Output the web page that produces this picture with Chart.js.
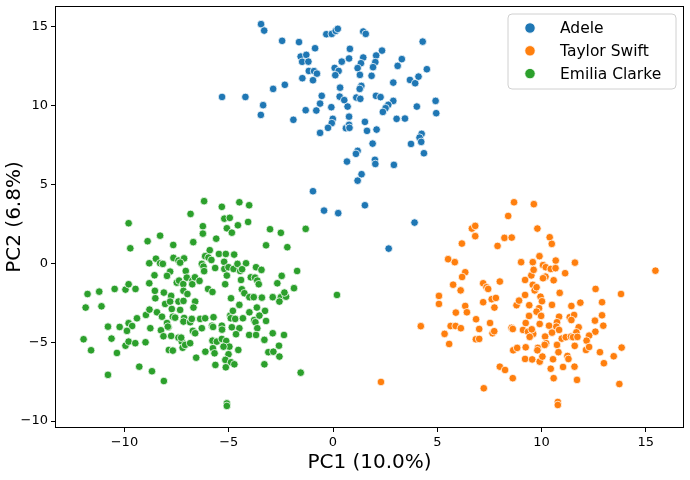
<!DOCTYPE html>
<html><head><meta charset="utf-8">
<script src="https://cdn.jsdelivr.net/npm/chart.js@4.4.1/dist/chart.umd.min.js"></script>
<style>html,body{margin:0;padding:0;background:#fff}#wrap{width:690px;height:480px}</style>
</head><body><div id="wrap"><canvas id="c" width="690" height="480"></canvas></div>
<script>
const seriesNames = ['Adele', 'Taylor Swift', 'Emilia Clarke'];
const seriesColors = ['#1f77b4', '#ff7f0e', '#2ca02c'];
const xTicks = [-10, -5, 0, 5, 10, 15];
const yTicks = [-10, -5, 0, 5, 10, 15];
const xLabel = 'PC1 (10.0%)';
const yLabel = 'PC2 (6.8%)';

const adele = [[-5.32,10.56],[-4.20,10.56],[-3.45,15.18],[-3.30,14.77],[-2.44,14.12],[-1.63,14.04],[-0.32,14.54],[-0.06,14.56],[0.13,14.75],[0.23,14.88],[-0.86,13.65],[0.81,13.61],[-1.55,13.12],[-1.28,13.23],[-1.48,12.79],[-1.18,12.80],[0.08,12.40],[0.27,12.21],[0.11,11.94],[-1.16,12.21],[-0.91,12.20],[-0.77,12.04],[0.42,12.80],[0.77,13.00],[-1.47,11.75],[-0.96,11.62],[-2.31,11.33],[-2.87,11.07],[-3.35,10.04],[-3.46,9.42],[-1.90,9.11],[-1.31,9.72],[-0.80,9.70],[-0.62,10.14],[-0.54,10.63],[-0.08,9.91],[0.34,11.15],[0.32,10.58],[0.54,10.36],[0.70,9.95],[-0.01,9.17],[-0.06,8.90],[-0.24,8.60],[-0.62,8.28],[0.62,8.58],[0.77,9.31],[1.45,14.71],[1.57,14.56],[1.45,13.06],[1.34,12.70],[1.18,12.39],[1.29,11.96],[2.35,13.50],[2.07,13.19],[2.03,12.77],[1.92,12.45],[1.85,11.90],[4.30,14.07],[3.30,12.96],[3.10,12.53],[4.50,12.32],[2.89,11.47],[3.69,11.64],[3.94,11.43],[4.10,11.85],[1.36,11.26],[1.28,11.07],[1.12,10.52],[1.31,10.44],[2.06,10.63],[2.28,10.55],[2.89,10.31],[2.65,10.06],[2.52,9.85],[2.39,9.61],[4.02,9.95],[4.92,10.31],[4.95,9.53],[0.77,8.79],[1.53,8.98],[1.63,8.41],[2.09,8.49],[3.05,9.17],[3.45,9.19],[4.25,8.22],[0.79,8.60],[0.67,6.46],[-0.96,4.58],[-0.43,3.35],[0.25,3.19],[1.90,7.60],[1.18,7.14],[1.10,6.95],[2.01,6.57],[2.03,6.31],[2.92,6.25],[3.74,7.58],[4.15,7.98],[4.23,7.71],[4.36,6.99],[1.37,5.66],[1.18,5.25],[1.53,3.69],[3.91,2.59],[2.67,0.94]];

const taylor = [[8.68,3.88],[9.63,3.76],[8.40,3.01],[6.66,2.21],[6.82,2.38],[6.82,1.73],[6.18,1.26],[7.89,1.11],[8.22,1.62],[8.57,1.64],[5.52,0.27],[5.84,0.08],[6.34,-0.56],[6.19,-0.86],[5.76,-1.35],[6.12,-1.71],[7.20,-1.26],[7.36,-1.51],[7.44,-1.62],[8.00,-1.15],[9.02,0.08],[9.58,0.08],[9.21,-1.05],[9.51,-0.76],[9.62,-0.41],[9.58,-1.36],[9.67,-1.71],[5.08,-2.06],[9.21,-2.00],[9.80,2.21],[10.39,1.66],[10.49,1.24],[9.90,0.46],[10.07,-0.11],[10.20,-0.24],[10.68,0.18],[10.44,-0.35],[10.67,-0.30],[10.19,-0.84],[10.07,-0.94],[10.58,-1.07],[11.13,-0.62],[11.60,0.05],[15.46,-0.46],[9.76,-1.51],[10.87,-1.87],[12.59,-1.62],[13.81,-1.94],[5.08,-2.57],[6.34,-2.70],[6.42,-3.10],[5.89,-3.12],[7.20,-2.46],[7.61,-2.27],[7.81,-2.19],[7.74,-2.80],[8.80,-2.65],[8.92,-2.36],[9.41,-2.65],[9.40,-3.33],[6.86,-3.54],[7.53,-3.78],[4.21,-3.98],[5.64,-3.97],[5.88,-3.97],[6.13,-4.11],[5.35,-4.47],[5.57,-5.11],[7.01,-4.16],[6.85,-4.81],[7.01,-4.79],[7.65,-4.43],[7.73,-4.30],[8.56,-4.09],[8.62,-4.16],[9.24,-3.78],[9.11,-4.22],[9.35,-4.33],[9.60,-4.47],[8.64,-5.51],[8.83,-5.36],[9.24,-5.32],[9.21,-6.06],[9.55,-6.09],[8.00,-6.55],[8.25,-6.76],[8.62,-7.28],[7.23,-7.92],[9.95,-2.11],[10.02,-2.40],[10.50,-2.63],[11.43,-2.70],[11.86,-2.49],[12.90,-2.46],[9.88,-2.84],[9.76,-3.06],[9.98,-3.33],[10.84,-3.38],[11.35,-3.41],[11.56,-3.27],[11.43,-3.59],[12.90,-3.29],[12.56,-3.63],[12.96,-3.95],[9.91,-3.84],[10.36,-3.95],[10.74,-3.73],[10.71,-4.01],[10.84,-4.22],[10.50,-4.39],[10.17,-4.64],[11.78,-4.05],[11.67,-4.37],[12.58,-4.33],[12.28,-4.58],[12.16,-4.90],[9.53,-4.18],[9.43,-4.66],[10.97,-4.77],[11.16,-4.68],[11.41,-4.64],[11.51,-4.68],[11.72,-4.66],[10.22,-5.06],[10.15,-5.17],[10.74,-5.17],[9.82,-5.36],[9.80,-5.51],[11.59,-5.23],[12.13,-5.49],[12.28,-5.30],[10.81,-5.63],[12.80,-5.63],[13.84,-5.34],[13.46,-5.89],[9.91,-6.23],[10.04,-5.91],[10.55,-6.08],[11.24,-5.87],[11.29,-6.06],[12.99,-6.33],[11.03,-6.57],[11.58,-6.55],[10.44,-6.68],[10.58,-7.28],[11.70,-7.39],[13.73,-7.65],[2.30,-7.52],[10.78,-8.79],[10.78,-8.98]];

const emilia = [[-9.80,2.55],[-8.89,1.41],[-8.29,1.76],[-9.72,0.96],[-7.66,1.17],[-8.81,0.01],[-8.49,0.30],[-8.29,0.01],[-8.16,-0.03],[-7.65,0.35],[-7.41,0.18],[-7.14,0.32],[-7.81,-0.52],[-7.96,-0.79],[-8.56,-0.75],[-8.81,-1.26],[-7.49,-1.22],[-7.38,-1.09],[-7.18,-1.31],[-7.06,-0.48],[-11.77,-1.94],[-11.21,-1.79],[-10.47,-1.62],[-9.95,-1.66],[-9.80,-1.32],[-9.47,-1.62],[-8.54,-1.74],[-8.11,-1.85],[-7.76,-2.06],[-11.86,-2.80],[-11.10,-2.72],[-10.79,-4.01],[-10.23,-4.03],[-9.80,-3.79],[-9.63,-3.97],[-9.88,-4.28],[-9.40,-3.48],[-8.97,-3.27],[-8.80,-2.93],[-8.52,-2.21],[-8.44,-3.10],[-8.20,-3.38],[-8.76,-4.11],[-8.25,-4.24],[-8.13,-4.62],[-7.89,-4.05],[-8.05,-2.57],[-7.81,-2.42],[-7.73,-2.89],[-7.68,-3.38],[-7.57,-3.44],[-7.33,-2.95],[-7.41,-2.42],[-7.17,-2.38],[-7.14,-3.46],[-7.96,-3.78],[-7.92,-4.01],[-7.76,-4.60],[-7.41,-4.71],[-7.25,-4.96],[-7.21,-5.35],[-7.87,-5.49],[-7.68,-5.53],[-11.96,-4.81],[-11.60,-5.51],[-10.62,-4.77],[-10.36,-5.68],[-9.95,-5.22],[-9.80,-4.96],[-9.48,-5.06],[-8.99,-5.00],[-9.29,-6.55],[-8.68,-6.84],[-10.79,-7.07],[-8.11,-7.46],[-6.18,3.95],[-5.33,3.59],[-4.49,3.88],[-4.02,3.69],[-6.83,3.14],[-5.21,2.84],[-4.95,2.89],[-5.09,2.23],[-4.85,1.95],[-4.56,2.42],[-4.07,2.63],[-6.24,2.36],[-6.24,1.89],[-5.60,1.57],[-6.70,1.35],[-3.02,2.17],[-2.50,1.94],[-1.31,2.19],[-3.21,1.15],[-2.19,1.03],[-7.33,0.05],[-5.91,0.84],[-6.13,0.46],[-5.97,0.37],[-5.83,0.22],[-5.47,0.60],[-5.14,0.60],[-4.74,0.56],[-6.29,-0.03],[-6.21,-0.20],[-6.18,-0.49],[-5.65,-0.29],[-5.22,0.10],[-5.21,-0.35],[-5.01,-0.24],[-4.77,-0.35],[-4.58,-0.03],[-4.45,-0.48],[-4.17,0.01],[-4.36,-0.37],[-3.69,-0.24],[-3.43,-0.41],[-5.09,-0.77],[-4.41,-1.05],[-3.94,-0.88],[-3.74,-0.90],[-3.63,-1.09],[-3.56,-1.32],[-2.46,-0.79],[-1.72,-0.48],[-2.67,-1.26],[-1.87,-1.57],[-7.01,-0.90],[-6.75,-1.11],[-6.75,-1.32],[-6.62,-0.88],[-6.40,-1.11],[-5.99,-1.62],[-5.78,-1.81],[-5.17,-1.32],[-4.37,-1.64],[-4.25,-1.89],[-4.01,-2.14],[-3.80,-2.14],[-3.41,-2.17],[-2.89,-2.14],[-2.50,-2.14],[-2.25,-2.11],[-2.33,-1.85],[-7.17,-1.74],[-6.98,-1.94],[-4.89,-2.21],[-6.61,-2.42],[-6.69,-2.80],[-4.49,-2.63],[-2.57,-2.42],[-4.01,-3.10],[-3.65,-2.80],[-3.26,-3.01],[-7.17,-3.69],[-6.85,-3.73],[-6.77,-3.52],[-6.72,-4.28],[-6.61,-4.43],[-6.37,-3.52],[-6.29,-4.11],[-6.13,-3.48],[-5.73,-3.41],[-5.80,-3.95],[-5.75,-4.03],[-5.33,-3.95],[-5.32,-4.20],[-4.93,-3.31],[-4.90,-3.48],[-4.80,-3.01],[-4.69,-3.52],[-4.32,-3.48],[-4.85,-4.05],[-4.49,-4.11],[-3.78,-3.59],[-3.72,-3.73],[-3.53,-3.31],[-3.63,-4.11],[-3.21,-3.65],[-4.02,-4.54],[-3.69,-4.54],[-4.65,-4.49],[-3.29,-4.85],[-2.89,-4.43],[-2.35,-4.54],[-2.59,-5.22],[-3.10,-5.63],[-2.86,-5.60],[-2.57,-5.91],[-7.28,-4.71],[-7.09,-5.17],[-6.85,-5.06],[-6.56,-5.98],[-6.12,-5.60],[-5.78,-4.90],[-5.57,-4.96],[-5.33,-4.79],[-5.12,-4.92],[-4.97,-5.28],[-5.25,-5.28],[-5.76,-5.38],[-5.68,-5.70],[-5.01,-5.76],[-5.16,-6.12],[-4.89,-6.27],[-4.73,-6.40],[-5.14,-6.59],[-4.54,-5.49],[-5.64,-6.44],[-3.29,-6.40],[-1.55,-6.93],[-5.09,-8.88],[-5.09,-9.04],[0.19,-2.00]];

const xRange = [-13.33, 16.83];
const yRange = [-10.44, 16.33];

const fmt = v => (v < 0 ? '\u2212' + Math.abs(v) : String(v));

const frame = {
  id: 'frame',
  afterDatasetsDraw(chart) {
    const a = chart.chartArea, ctx = chart.ctx;
    ctx.save();
    ctx.strokeStyle = '#000';
    ctx.lineWidth = 1;
    ctx.strokeRect(Math.round(a.left) + 0.5, Math.round(a.top) + 0.5, Math.round(a.right - a.left) - 1, Math.round(a.bottom - a.top) - 1);
    ctx.restore();
  },
  afterDraw(chart) {
    const ctx = chart.ctx;
    ctx.save();
    const bx = 508, by = 14, bw = 168, bh = 75, r = 4;
    ctx.beginPath();
    ctx.moveTo(bx + r, by);
    ctx.arcTo(bx + bw, by, bx + bw, by + bh, r);
    ctx.arcTo(bx + bw, by + bh, bx, by + bh, r);
    ctx.arcTo(bx, by + bh, bx, by, r);
    ctx.arcTo(bx, by, bx + bw, by, r);
    ctx.closePath();
    ctx.fillStyle = 'rgba(255,255,255,0.8)';
    ctx.fill();
    ctx.strokeStyle = '#d0d0d0';
    ctx.lineWidth = 1;
    ctx.stroke();
    ctx.font = '15.5px "DejaVu Sans"';
    ctx.textBaseline = 'middle';
    chart.data.datasets.forEach((ds, i) => {
      const cy = by + 14 + i * 22.8;
      ctx.beginPath();
      ctx.arc(bx + 22, cy, 5.2, 0, Math.PI * 2);
      ctx.fillStyle = ds.backgroundColor;
      ctx.fill();
      ctx.strokeStyle = '#fff';
      ctx.lineWidth = 0.8;
      ctx.stroke();
      ctx.fillStyle = '#000';
      ctx.fillText(ds.label, bx + 52, cy + 1);
    });
    ctx.restore();
  }
};

const toPts = arr => arr.map(p => ({ x: p[0], y: p[1] }));
const sets = [adele, taylor, emilia];

new Chart(document.getElementById('c'), {
  type: 'scatter',
  data: {
    datasets: sets.map((s, i) => ({
      label: seriesNames[i],
      data: toPts(s),
      backgroundColor: seriesColors[i],
      borderColor: '#ffffff',
      borderWidth: 0.75,
      pointRadius: 3.8,
      pointHoverRadius: 3.8,
      order: 3 - i
    }))
  },
  options: {
    responsive: false,
    devicePixelRatio: 1,
    animation: false,
    layout: { padding: { top: 6, right: 6, left: 0, bottom: 0 } },
    plugins: { legend: { display: false }, tooltip: { enabled: false } },
    scales: {
      x: {
        type: 'linear', min: xRange[0], max: xRange[1],
        afterBuildTicks: s => { s.ticks = xTicks.map(v => ({ value: v })); },
        afterFit: s => { s.height = 52; s.paddingLeft = 0; s.paddingRight = 0; },
        grid: { drawOnChartArea: false, drawTicks: true, tickLength: 4, tickColor: '#000', color: '#000' },
        border: { display: false },
        ticks: { color: '#000', font: { family: 'DejaVu Sans', size: 13 }, padding: 3, maxRotation: 0, callback: fmt },
        title: { display: true, text: xLabel, color: '#000', font: { family: 'DejaVu Sans', size: 20 }, padding: { top: 0, bottom: 5 } }
      },
      y: {
        type: 'linear', min: yRange[0], max: yRange[1],
        afterBuildTicks: s => { s.ticks = yTicks.map(v => ({ value: v })); },
        afterFit: s => { s.width = 55; s.paddingTop = 0; s.paddingBottom = 0; },
        grid: { drawOnChartArea: false, drawTicks: true, tickLength: 4, tickColor: '#000', color: '#000' },
        border: { display: false },
        ticks: { color: '#000', font: { family: 'DejaVu Sans', size: 13 }, padding: 3, callback: fmt },
        title: { display: true, text: yLabel, color: '#000', font: { family: 'DejaVu Sans', size: 20 }, padding: { top: 3, bottom: 0 } }
      }
    }
  },
  plugins: [frame]
});
</script>
</body></html>
